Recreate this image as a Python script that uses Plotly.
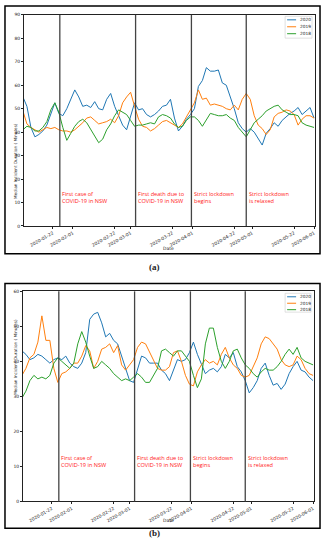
import plotly.graph_objects as go
import pandas as pd

W, H = 328, 550

# ---------------- data ----------------
DATES = pd.date_range("2020-01-07", periods=74, freq="2D")
SERIES = ["2020", "2019", "2018"]
COLORS = ["#1f77b4", "#ff7f0e", "#2ca02c"]

# Panel (a)
A_2020 = [55, 51, 42, 38, 39, 40.5, 43, 48, 52.5, 48,
          47, 50, 54, 58, 55, 51, 51.5, 50.5, 53, 50,
          49.5, 54, 56.5, 51, 47, 43, 41, 47, 52.5, 49.5,
          50, 47.5, 46.5, 47.5, 49, 51, 51.5, 54, 46, 40.5,
          42.5, 45.5, 47.5, 50, 59.5, 62, 67.5, 66, 66, 66.5,
          61, 60, 55, 50, 44, 41.5, 40, 41.5, 40, 37,
          34.5, 39.5, 41.5, 44, 42.5, 45, 46.5, 48, 49, 50.5,
          47.5, 49, 50.5, 46]
A_2019 = [49, 43.5, 42, 41, 40, 41, 42, 41.5, 42, 41,
          40.5, 40.5, 40, 41, 42.5, 44, 46, 46.5, 45, 43.5,
          44, 44.5, 45.5, 44, 47, 52.5, 55, 57, 51, 45.5,
          42.5, 42, 40.5, 41.5, 43, 44.5, 45, 44, 43, 42,
          43.5, 46.5, 49.5, 52.5, 58, 54, 54.5, 51.5, 52, 51.5,
          51, 50, 49.5, 51.5, 49.5, 54, 56.5, 54, 47, 43,
          41.5, 39, 41, 46.5, 48, 48.5, 49.5, 49, 47.5, 43,
          45.5, 47, 47, 46]
A_2018 = [41, 42.5, 42, 40.5, 40.5, 42, 44.5, 49.5, 52.5, 48.5,
          42, 36.5, 39.5, 42.5, 44.5, 45.5, 44, 41, 38, 35.5,
          37, 41, 43.5, 47, 49.5, 48.5, 47.5, 45, 42.5, 43,
          43, 43.5, 44, 43.5, 46.5, 47.5, 47, 46, 43.5, 42,
          42.5, 45, 46.5, 46.5, 45, 42.5, 45.5, 48, 47.5, 47,
          47, 47.5, 46, 45, 42, 40, 38, 41, 44, 45.5,
          47, 49, 50, 51, 51.5, 49.5, 48.5, 47.5, 47.5, 47,
          44, 43, 42.5, 42]

# Panel (b)
B_2020 = [43, 42, 40.5, 41, 42, 41.5, 40.5, 39.5, 40.5, 41,
          40.5, 41.5, 39.5, 38.5, 38, 39.5, 42.5, 52, 53.5, 54,
          51, 47, 48, 46, 45, 41.5, 38, 34.5, 34, 38,
          41.5, 41, 39.5, 39.5, 39.5, 37.5, 36.5, 34.5, 37.5, 40.5,
          40, 40.5, 42.5, 45.5, 42, 39, 36.5, 37.5, 38, 37,
          38.5, 42, 41, 42.5, 38.5, 37, 34.5, 31, 32.5, 34.5,
          38, 39.5, 36, 33.2, 33.7, 32, 33.5, 36.5, 38.5, 40,
          37.5, 37, 35.5, 34.5]
B_2019 = [36, 38, 41, 42, 45.5, 53, 46, 46, 38, 34,
          36.5, 37, 38, 39.5, 39.5, 41.5, 44.5, 43, 38, 40,
          43.5, 44, 45, 42.5, 44.5, 39, 37.5, 39, 40.5, 44,
          45.5, 45, 42.5, 40.5, 38, 37.5, 37.5, 38.5, 42.5, 43,
          40, 36, 33.5, 33, 37, 39, 40.5, 39.5, 40, 39,
          42, 44, 41, 39, 38, 36, 35.5, 36, 38.5, 41,
          45, 47, 46.5, 45, 43.5, 40.5, 39, 38.5, 39, 41.5,
          40.5, 38, 36.5, 36]
B_2018 = [29.5, 31.5, 34.5, 36, 35, 35.5, 35, 36, 39.5, 41,
          40, 39, 38, 39.5, 45, 48.5, 45.5, 41.5, 38, 38.5,
          40, 39, 38, 36.5, 35.5, 34.5, 35, 34.5, 35.5, 36.5,
          35.5, 34, 34, 36, 38, 43, 43.5, 42.5, 41.5, 43,
          43, 41.5, 40, 36, 32.5, 35, 45, 49.5, 49.5, 44,
          40, 38, 40, 43, 43.5, 41, 39, 38, 36.5, 35.5,
          37, 38, 37.5, 37.5, 38.5, 40, 42, 43.5, 42, 44,
          41, 40, 39.5, 39]

TICK_DATES = ["2020-01-22", "2020-02-01", "2020-02-22", "2020-03-01", "2020-03-22",
              "2020-04-01", "2020-04-22", "2020-05-01", "2020-05-22", "2020-06-01"]
X_RANGE = ["2020-01-07 12:00", "2020-06-01 12:00"]
EVENT_DATES = ["2020-01-25 12:00", "2020-03-03 12:00", "2020-03-31 12:00", "2020-04-28"]
EVENT_LABELS = ["First case of<br>COVID-19 in NSW", "First death due to<br>COVID-19 in NSW",
                "Strict lockdown<br>begins", "Strict lockdown<br>is relaxed"]
A_YMAX, B_YMAX = 90, 60
LABEL_Y = [12, 11.3]

# ---------------- figure ----------------
def px(x):
    return x / W

def py(y):
    return 1 - y / H

fig = go.Figure()
panels = [("x", "y", [A_2020, A_2019, A_2018]), ("x2", "y2", [B_2020, B_2019, B_2018])]
for xa, ya, vals in panels:
    for name, col, v in zip(SERIES, COLORS, vals):
        fig.add_trace(go.Scatter(x=DATES, y=v, mode="lines", name=name,
                                 line=dict(color=col, width=1), xaxis=xa, yaxis=ya,
                                 showlegend=False))

axis_common = dict(showline=True, mirror=True, linecolor="#222", linewidth=0.8,
                   ticks="outside", ticklen=2, tickwidth=0.6, tickcolor="#222",
                   showgrid=False, zeroline=False,
                   tickfont=dict(size=4.5, color="#222", family="DejaVu Sans"))
xcommon = dict(axis_common, type="date", range=X_RANGE, tickvals=TICK_DATES,
               tickformat="%Y-%m-%d", tickangle=-30)

fig.update_layout(
    width=W, height=H, margin=dict(l=0, r=0, t=0, b=0),
    paper_bgcolor="white", plot_bgcolor="white", showlegend=False,
    font=dict(family="DejaVu Sans"),
    xaxis=dict(xcommon, domain=[px(24), px(316)], anchor="y"),
    yaxis=dict(axis_common, domain=[py(226), py(13)], range=[0, A_YMAX], dtick=10, anchor="x"),
    xaxis2=dict(xcommon, domain=[px(23), px(315)], anchor="y2"),
    yaxis2=dict(axis_common, domain=[py(504), py(292)], range=[0, B_YMAX], dtick=10, anchor="x2"),
)

shapes = []
annots = []
# event lines and labels
for k, (xa, ya) in enumerate([("x", "y"), ("x2", "y2")]):
    for d, lab in zip(EVENT_DATES, EVENT_LABELS):
        shapes.append(dict(type="line", xref=xa, yref=ya + " domain", x0=d, x1=d, y0=0, y1=1,
                           line=dict(color="#444", width=1.3)))
        annots.append(dict(x=d, y=LABEL_Y[k], xref=xa, yref=ya, text=lab, showarrow=False,
                           xanchor="left", yanchor="middle", align="left", xshift=0.5,
                           font=dict(size=5.6, color="#ff1a1a", family="Open Sans")))

# outer frames
for (t, b) in [(4, 254), (284, 531)]:
    shapes.append(dict(type="rect", xref="paper", yref="paper", x0=px(5), x1=px(321),
                       y0=py(b), y1=py(t), line=dict(color="black", width=1.5)))

# legends
for (bx0, bx1, by0, by1, items) in [(286, 313, 14.5, 36.5, [18, 25, 32]),
                                     (286, 312, 294, 313, [297.5, 304, 310.5])]:
    shapes.append(dict(type="rect", xref="paper", yref="paper", x0=px(bx0), x1=px(bx1),
                       y0=py(by1), y1=py(by0), line=dict(color="#ccc", width=0.6),
                       fillcolor="white"))
    for name, col, yy in zip(SERIES, COLORS, items):
        shapes.append(dict(type="line", xref="paper", yref="paper", x0=px(288), x1=px(297),
                           y0=py(yy), y1=py(yy), line=dict(color=col, width=1)))
        annots.append(dict(x=px(299), y=py(yy), xref="paper", yref="paper", text=name,
                           showarrow=False, xanchor="left", yanchor="middle",
                           font=dict(size=4.3, color="#222")))

# axis titles
for (cy, dy) in [((13 + 226) / 2, 249), ((292 + 504) / 2, 528)]:
    annots.append(dict(x=px(11), y=py(cy), xref="paper", yref="paper",
                       text="Median Incident Duration ( Minutes)", textangle=-90,
                       showarrow=False, font=dict(size=4.2, color="#222")))
    annots.append(dict(x=px(169), y=py(dy), xref="paper", yref="paper", text="Date",
                       showarrow=False, font=dict(size=4.5, color="#222")))

# captions
for (cap, cy) in [("(a)", 267), ("(b)", 543)]:
    annots.append(dict(x=px(155), y=py(cy), xref="paper", yref="paper", text="<b>" + cap + "</b>",
                       showarrow=False, font=dict(size=9, color="#222", family="Liberation Serif")))

fig.update_layout(shapes=shapes, annotations=annots)
fig.write_html("out.html", config={"displayModeBar": False},
               post_script="document.body.style.margin='0';"
                           "document.documentElement.style.overflow='hidden';")
